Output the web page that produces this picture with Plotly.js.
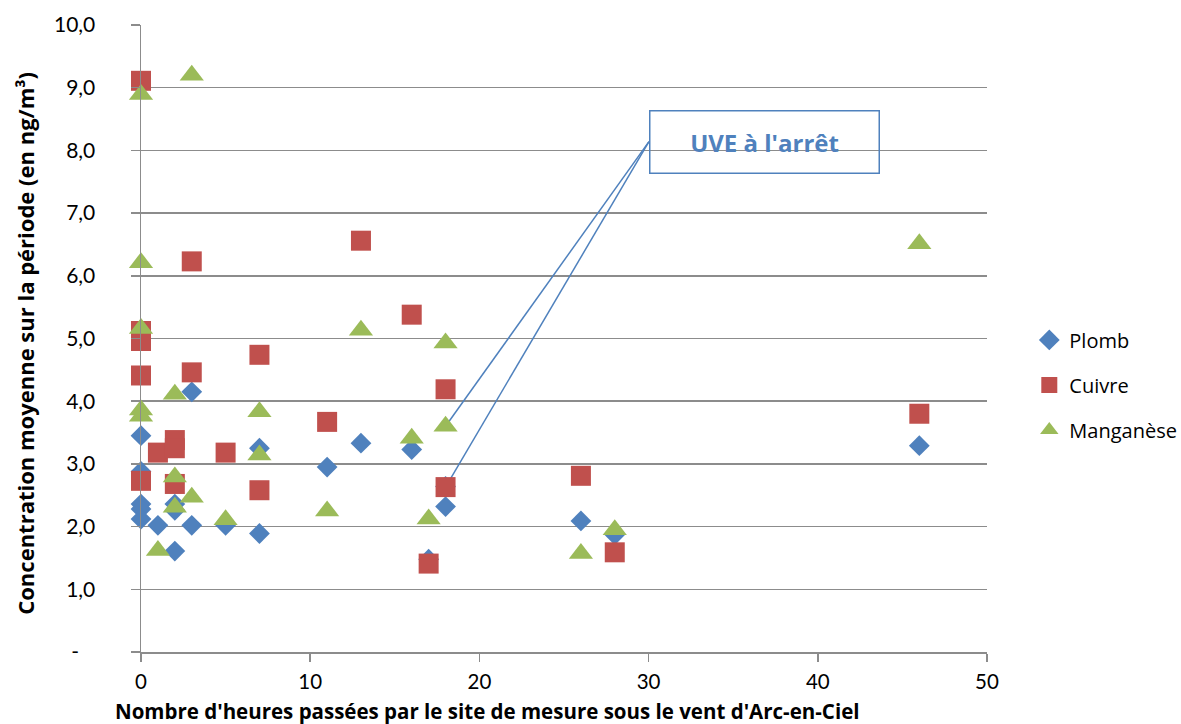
<!DOCTYPE html>
<html>
<head>
<meta charset="utf-8">
<script src="https://cdn.plot.ly/plotly-3.0.1.min.js"></script>
<style>html,body{margin:0;padding:0;background:#fff;}#chart{width:1181px;height:724px;}</style>
</head>
<body>
<div id="chart"></div>
<script>
// ---- data ----
const plombX = [0, 0, 0, 0, 0, 1, 2, 2, 2, 3, 3, 5, 7, 7, 11, 13, 16, 17, 18, 18, 26, 28, 46];
const plombY = [3.45, 2.88, 2.36, 2.28, 2.12, 2.02, 1.61, 2.36, 2.26, 4.15, 2.02, 2.02, 3.25, 1.89, 2.95, 3.33, 3.23, 1.48, 2.32, 2.64, 2.09, 1.87, 3.29];

const cuivreX = [0, 0, 0, 0, 0, 1, 2, 2, 2, 3, 3, 5, 7, 7, 11, 13, 16, 17, 18, 18, 26, 28, 46];
const cuivreY = [9.11, 5.12, 4.96, 4.41, 2.73, 3.18, 3.38, 3.25, 2.68, 6.23, 4.46, 3.18, 4.74, 2.58, 3.67, 6.56, 5.38, 1.41, 4.19, 2.63, 2.81, 1.59, 3.80];

const mnX = [0, 3, 0, 0, 0, 0, 1, 2, 2, 2, 3, 5, 7, 7, 11, 13, 16, 17, 18, 18, 26, 28, 46];
const mnY = [8.89, 9.20, 6.21, 5.16, 3.86, 3.76, 1.62, 4.11, 2.79, 2.31, 2.47, 2.11, 3.83, 3.14, 2.25, 5.13, 3.41, 2.12, 4.93, 3.60, 1.57, 1.95, 6.51];

const seriesNames = ['Plomb', 'Cuivre', 'Manganèse'];
const yTickVals = [0, 1, 2, 3, 4, 5, 6, 7, 8, 9, 10];
const yTickText = ['-\u00a0\u00a0\u00a0', '1,0', '2,0', '3,0', '4,0', '5,0', '6,0', '7,0', '8,0', '9,0', '10,0'];
const xTickVals = [0, 10, 20, 30, 40, 50];
const calloutText = "UVE à l'arrêt";
const calloutAnchor = {x: 30.02, y: 8.14};
const xTitle = "Nombre d'heures passées par le site de mesure sous le vent d'Arc-en-Ciel";
const yTitle = "Concentration moyenne sur la période (en ng/m³)";

const TICKFONT = 'Lato, "Open Sans", sans-serif';
const FONT = '"Open Sans", Lato, sans-serif';
const GRID = '#8c8c8c';
const BLUE = '#4F81BD', RED = '#C0504D', GREEN = '#9BBB59';

const traces = [
  {x: plombX, y: plombY, name: seriesNames[0], mode: 'markers', type: 'scatter', legendgroup: 'a', cliponaxis: false,
   marker: {symbol: 'diamond', size: 16, color: BLUE}},
  {x: cuivreX, y: cuivreY, name: seriesNames[1], mode: 'markers', type: 'scatter', legendgroup: 'b', cliponaxis: false,
   marker: {symbol: 'square', size: 20, color: RED}},
  {x: mnX, y: mnY, name: seriesNames[2], mode: 'markers', type: 'scatter', legendgroup: 'c', cliponaxis: false,
   marker: {symbol: 'triangle-up', size: 21, color: GREEN}}
];

// connector lines from callout box to two marks at x = 18
const iMn = mnX.findIndex((v, i) => v === 18 && mnY[i] < 4);
const iCu = cuivreX.findIndex((v, i) => v === 18 && cuivreY[i] < 3);

const layout = {
  width: 1181, height: 724,
  margin: {l: 141, r: 194, t: 25, b: 72, autoexpand: false},
  paper_bgcolor: '#fff', plot_bgcolor: '#fff',
  font: {family: FONT, size: 19, color: '#000'},
  showlegend: true,
  legend: {x: 1.05, y: 0.426, xanchor: 'left', yanchor: 'middle', traceorder: 'grouped',
           tracegroupgap: 16, font: {family: FONT, size: 20, color: '#000'}},
  xaxis: {range: [0, 50], tickvals: xTickVals, ticktext: xTickVals.map(String),
          showgrid: false, zeroline: false, showline: true, linecolor: GRID, linewidth: 1.5,
          ticks: 'outside', ticklen: 8, tickwidth: 1.5, tickcolor: GRID, ticklabelstandoff: 3,
          tickfont: {family: TICKFONT, size: 20.5, color: '#000'}, fixedrange: true},
  yaxis: {range: [0, 10], tickvals: yTickVals, ticktext: yTickText,
          showgrid: true, gridcolor: GRID, gridwidth: 1.5, zeroline: false, showline: true,
          linecolor: GRID, linewidth: 1.5, ticks: 'outside', ticklen: 9, tickwidth: 1.5,
          tickcolor: GRID, ticklabelstandoff: 31,
          tickfont: {family: TICKFONT, size: 21, color: '#000'}, fixedrange: true},
  shapes: [
    {type: 'line', layer: 'between', xref: 'x', yref: 'y', x0: calloutAnchor.x, y0: calloutAnchor.y,
     x1: mnX[iMn], y1: mnY[iMn], line: {color: BLUE, width: 1.5}},
    {type: 'line', layer: 'between', xref: 'x', yref: 'y', x0: calloutAnchor.x, y0: calloutAnchor.y,
     x1: cuivreX[iCu], y1: cuivreY[iCu], line: {color: BLUE, width: 1.5}}
  ],
  annotations: [
    {xref: 'x', yref: 'y', x: calloutAnchor.x, y: calloutAnchor.y, xanchor: 'left', yanchor: 'middle',
     text: '<b>' + calloutText + '</b>', showarrow: false, width: 226, height: 59, borderpad: 1,
     bordercolor: BLUE, borderwidth: 1.5, bgcolor: 'rgba(0,0,0,0)', align: 'center',
     font: {family: FONT, size: 24, color: BLUE}},
    {xref: 'paper', yref: 'paper', x: 0.409, y: -0.0935, xanchor: 'center', yanchor: 'middle', borderpad: 0,
     text: '<b>' + xTitle + '</b>', showarrow: false, font: {family: FONT, size: 20.5, color: '#000'}},
    {xref: 'paper', yref: 'paper', x: -0.138, y: 0.492, xanchor: 'center', yanchor: 'middle', textangle: -90,
     text: '<b>' + yTitle + '</b>', showarrow: false, font: {family: FONT, size: 22, color: '#000'}}
  ]
};

Plotly.newPlot('chart', traces, layout, {displayModeBar: false, staticPlot: true});
</script>
</body>
</html>
